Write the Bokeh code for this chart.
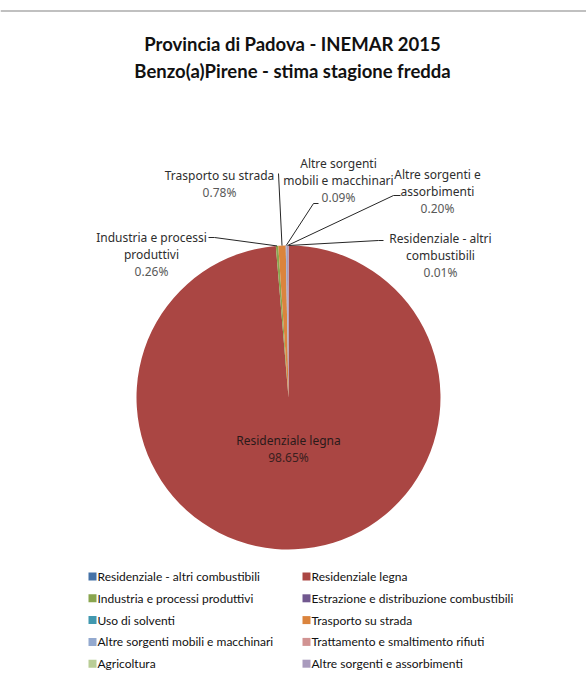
import math
from bokeh.plotting import figure
from bokeh.models import Range1d, ColumnDataSource
from bokeh.core.properties import value
from bokeh.embed import file_html
from bokeh.resources import INLINE

# ---------------- data ----------------
title_lines = ["Provincia di Padova - INEMAR 2015",
               "Benzo(a)Pirene - stima stagione fredda"]
categories = ["Residenziale - altri combustibili", "Residenziale legna",
              "Industria e processi produttivi", "Estrazione e distribuzione combustibili",
              "Uso di solventi", "Trasporto su strada",
              "Altre sorgenti mobili e macchinari", "Trattamento e smaltimento rifiuti",
              "Agricoltura", "Altre sorgenti e assorbimenti"]
shares = [0.01, 98.65, 0.26, 0.0, 0.0, 0.78, 0.09, 0.0, 0.0, 0.20]
colors = ["#4572A7", "#AA4643", "#89A54E", "#71588F", "#4198AF",
          "#DB843D", "#93A9CF", "#D19392", "#B9CD96", "#A99BBD"]
# wrapped data-label text (as shown on the chart)
label_names = {
    "Residenziale - altri combustibili": ["Residenziale - altri", "combustibili"],
    "Residenziale legna": ["Residenziale legna"],
    "Industria e processi produttivi": ["Industria e processi", "produttivi"],
    "Trasporto su strada": ["Trasporto su strada"],
    "Altre sorgenti mobili e macchinari": ["Altre sorgenti", "mobili e macchinari"],
    "Altre sorgenti e assorbimenti": ["Altre sorgenti e", "assorbimenti"],
}

# ---------------- layout (page pixel coordinates) ----------------
W, H = 586, 670
def X(px): return px
def Y(py): return H - py

CX, CY, R = 288, 397, 152
label_pos = {  # centre x, y of first line
    "Residenziale - altri combustibili": (440, 238),
    "Residenziale legna": (288, 440),
    "Industria e processi produttivi": (151, 237),
    "Trasporto su strada": (219, 175),
    "Altre sorgenti mobili e macchinari": (338, 163),
    "Altre sorgenti e assorbimenti": (437, 174),
}
leader_pts = {  # elbow, end
    "Residenziale - altri combustibili": ((378, 240), (383, 240)),
    "Industria e processi produttivi": ((214, 237), (208, 237)),
    "Trasporto su strada": ((278, 173), (278, 173)),
    "Altre sorgenti mobili e macchinari": ((313, 203), (318, 203)),
    "Altre sorgenti e assorbimenti": ((393, 195), (400, 195)),
}
LINE_H = 17

p = figure(width=W, height=H, x_range=Range1d(0, W), y_range=Range1d(0, H),
           output_backend="svg", toolbar_location=None,
           x_axis_location=None, y_axis_location=None, min_border=0)
p.grid.visible = False
p.outline_line_color = None
p.background_fill_color = "white"

# top grey rule
p.segment(x0=[X(0)], y0=[Y(10.5)], x1=[X(586)], y1=[Y(10.5)], line_color="#C0C0C0", line_width=2)

# title
p.text(x=[X(292)] * 2, y=[Y(43), Y(70)], text=title_lines,
       text_font=value("Lato"), text_font_style="bold", text_font_size="18.5px",
       text_color="#111111", text_align="center", text_baseline="middle")

# pie wedges (clockwise from 12 o'clock); zero shares are skipped
total = sum(shares)
starts, ends, mids = [], [], []
cum = 0.0
for s in shares:
    a0 = math.pi / 2 - 2 * math.pi * cum / total
    cum += s
    a1 = math.pi / 2 - 2 * math.pi * cum / total
    starts.append(a0); ends.append(a1); mids.append((a0 + a1) / 2)
keep = [i for i, s in enumerate(shares) if s > 0]
src = ColumnDataSource(dict(x=[X(CX)] * len(keep), y=[Y(CY)] * len(keep),
                            start=[starts[i] for i in keep], end=[ends[i] for i in keep],
                            color=[colors[i] for i in keep]))
p.wedge(x="x", y="y", radius=R, start_angle="start", end_angle="end",
        direction="clock", fill_color="color", line_color=None, source=src)

# leader lines
xs, ys = [], []
for cat, (elbow, end) in leader_pts.items():
    i = categories.index(cat)
    ex = X(CX) + R * math.cos(mids[i])
    ey = Y(CY) + R * math.sin(mids[i])
    xs.append([ex, X(elbow[0]), X(end[0])])
    ys.append([ey, Y(elbow[1]), Y(end[1])])
p.multi_line(xs=xs, ys=ys, line_color="#262626", line_width=1)

# data labels
for cat, (lx, ly) in label_pos.items():
    i = categories.index(cat)
    names = label_names[cat]
    inside = cat == "Residenziale legna"
    p.text(x=[X(lx)] * len(names), y=[Y(ly + k * LINE_H) for k in range(len(names))],
           text=names, text_font=value("Noto Sans"), text_font_size="12px",
           text_color="#2a1a1a" if inside else "#2e2e2e",
           text_align="center", text_baseline="middle")
    p.text(x=[X(lx)], y=[Y(ly + len(names) * LINE_H)], text=[f"{shares[i]:.2f}%"],
           text_font=value("Noto Sans"), text_font_size="12px",
           text_color="#3a2020" if inside else "#595959",
           text_align="center", text_baseline="middle")

# legend (2 columns, row-major)
col_x = [88, 302]
row_y0, row_dy = 576, 21.8
lx = [X(col_x[i % 2] + 4) for i in range(len(categories))]
ly = [Y(row_y0 + (i // 2) * row_dy) for i in range(len(categories))]
p.scatter(x=lx, y=ly, marker="square", size=8, fill_color=colors, line_color=None)
p.text(x=[v + 5 for v in lx], y=ly, text=categories,
       text_font=value("Lato"), text_font_size="12px",
       text_color="#111111", text_align="left", text_baseline="middle")

open("out.html", "w").write(file_html(p, INLINE))
